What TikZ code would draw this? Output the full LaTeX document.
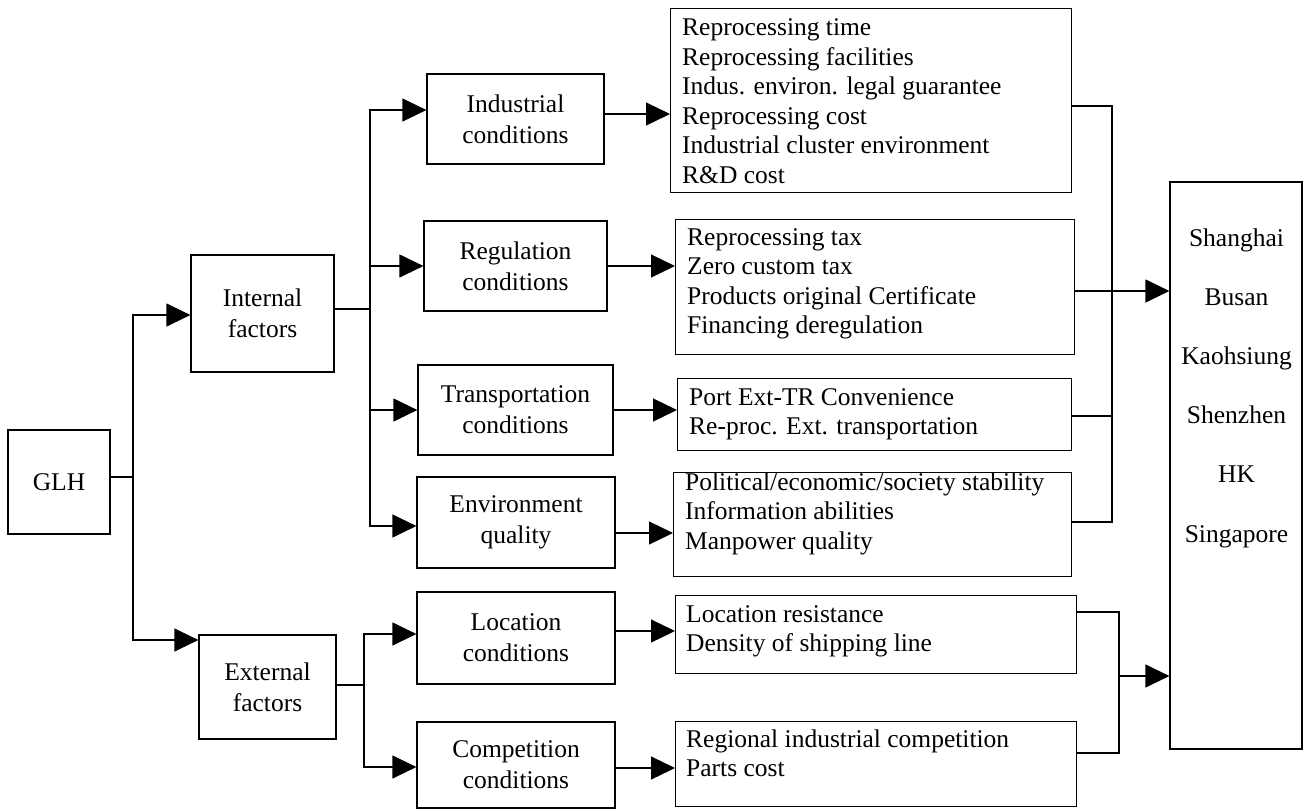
\documentclass[tikz,border=0pt]{standalone}
\usepackage{fontspec}
\setmainfont{Liberation Serif}
\usetikzlibrary{arrows.meta}

\newcommand\boxfont{\fontsize{25.5}{31}\selectfont}
\newcommand\listfont{\fontsize{25.5}{29.6}\selectfont}

\tikzset{
  box/.style={draw, line width=1.2pt, align=center, inner sep=0pt, font=\boxfont},
  lbox/.style={draw, line width=1.2pt, inner sep=0pt, anchor=north west},
  ltext/.style={anchor=base west, inner sep=0pt, font=\listfont},
  pname/.style={anchor=base, inner sep=0pt, font=\listfont},
  ln/.style={line width=1.2pt},
  arr/.style={line width=1.2pt, -{Triangle[length=24pt,width=23pt]}},
}

\begin{document}
\begin{tikzpicture}[x=1pt, y=-1pt]
\useasboundingbox (0,0) rectangle (1304,809);

% left column
\node[box, minimum width=102pt, minimum height=104pt] (glh) at (59,482) {GLH};
\node[box, minimum width=143pt, minimum height=117pt] (intf) at (262.5,313.5) {Internal\\factors};
\node[box, minimum width=137pt, minimum height=104pt] (extf) at (267.5,687) {External\\factors};

% condition boxes
\node[box, minimum width=177pt, minimum height=90pt] (ind) at (515.5,119) {Industrial\\conditions};
\node[box, minimum width=183pt, minimum height=90pt] (reg) at (515.5,266) {Regulation\\conditions};
\node[box, minimum width=195pt, minimum height=90pt] (tra) at (515.5,410) {Transportation\\conditions};
\node[box, minimum width=198pt, minimum height=91pt] (env) at (516,522.5) {Environment\\quality};
\node[box, minimum width=198pt, minimum height=92pt] (loc) at (516,638) {Location\\conditions};
\node[box, minimum width=198pt, minimum height=86pt] (com) at (516,765) {Competition\\conditions};

% factor lists
\node[lbox, minimum width=401pt, minimum height=184pt] (l1) at (670,8) {};
\node[ltext] (t1) at (682,35.5) {\begin{tabular}[t]{@{}l@{}}Reprocessing time\\Reprocessing facilities\\Indus. environ. legal guarantee\\Reprocessing cost\\Industrial cluster environment\\R\&D cost\end{tabular}};

\node[lbox, minimum width=399pt, minimum height=135pt] (l2) at (675,219) {};
\node[ltext] (t2) at (687,245) {\begin{tabular}[t]{@{}l@{}}Reprocessing tax\\Zero custom tax\\Products original Certificate\\Financing deregulation\end{tabular}};

\node[lbox, minimum width=394pt, minimum height=72pt] (l3) at (677,378) {};
\node[ltext] (t3) at (689,405) {\begin{tabular}[t]{@{}l@{}}Port Ext-TR Convenience\\Re-proc. Ext. transportation\end{tabular}};

\node[lbox, minimum width=398pt, minimum height=104pt] (l4) at (673,472) {};
\node[ltext] (t4) at (685,490) {\begin{tabular}[t]{@{}l@{}}Political/economic/society stability\\Information abilities\\Manpower quality\end{tabular}};

\node[lbox, minimum width=401pt, minimum height=78pt] (l5) at (675,595) {};
\node[ltext] (t5) at (686,622) {\begin{tabular}[t]{@{}l@{}}Location resistance\\Density of shipping line\end{tabular}};

\node[lbox, minimum width=401pt, minimum height=85pt] (l6) at (675,721) {};
\node[ltext] (t6) at (686,747) {\begin{tabular}[t]{@{}l@{}}Regional industrial competition\\Parts cost\end{tabular}};

% ports
\node[draw, line width=1.2pt, inner sep=0pt, minimum width=132pt, minimum height=567pt] (port) at (1236,465.5) {};
\node[pname] (p1) at (1236.5,246) {Shanghai};
\node[pname] (p2) at (1236.5,305.2) {Busan};
\node[pname] (p3) at (1236.5,364.4) {Kaohsiung};
\node[pname] (p4) at (1236.5,423.6) {Shenzhen};
\node[pname] (p5) at (1236.5,482.8) {HK};
\node[pname] (p6) at (1236.5,542) {Singapore};

% GLH splits into internal and external factors
\coordinate (gb) at (133,477);
\draw[ln] (glh.east |- gb) -- (gb);
\draw[arr] (gb) |- (intf.west |- 0,315);
\draw[arr] (gb) |- (extf.west |- 0,640);

% internal factors branch
\coordinate (ib) at (370,309);
\draw[ln] (intf.east |- ib) -- (ib);
\draw[arr] (ib) |- (ind.west |- 0,110);
\draw[arr] (ib) |- (reg.west);
\draw[arr] (ib) |- (tra.west);
\draw[arr] (ib) |- (env.west |- 0,526);

% external factors branch
\coordinate (eb) at (364,685);
\draw[ln] (extf.east |- eb) -- (eb);
\draw[arr] (eb) |- (loc.west |- 0,634);
\draw[arr] (eb) |- (com.west |- 0,767);

% conditions to their factor lists
\draw[arr] (ind.east |- 0,114) -- (l1.west |- 0,114);
\draw[arr] (reg.east |- 0,266) -- (l2.west |- 0,266);
\draw[arr] (tra.east |- 0,410) -- (l3.west |- 0,410);
\draw[arr] (env.east |- 0,533) -- (l4.west |- 0,533);
\draw[arr] (loc.east |- 0,631) -- (l5.west |- 0,631);
\draw[arr] (com.east |- 0,768) -- (l6.west |- 0,768);

% internal lists merge into the ports box
\coordinate (r1t) at (1112,106);
\coordinate (r1b) at (1112,522);
\draw[ln] (l1.east |- r1t) -- (r1t) -- (r1b) -- (l4.east |- r1b);
\draw[ln] (l3.east |- 0,416) -- (r1t |- 0,416);
\draw[arr] (l2.east |- 0,291) -- (port.west |- 0,291);

% external lists merge into the ports box
\coordinate (r2t) at (1119,612);
\coordinate (r2b) at (1119,753);
\draw[ln] (l5.east |- r2t) -- (r2t) -- (r2b) -- (l6.east |- r2b);
\draw[arr] (r2t |- 0,676) -- (port.west |- 0,676);
\end{tikzpicture}
\end{document}
